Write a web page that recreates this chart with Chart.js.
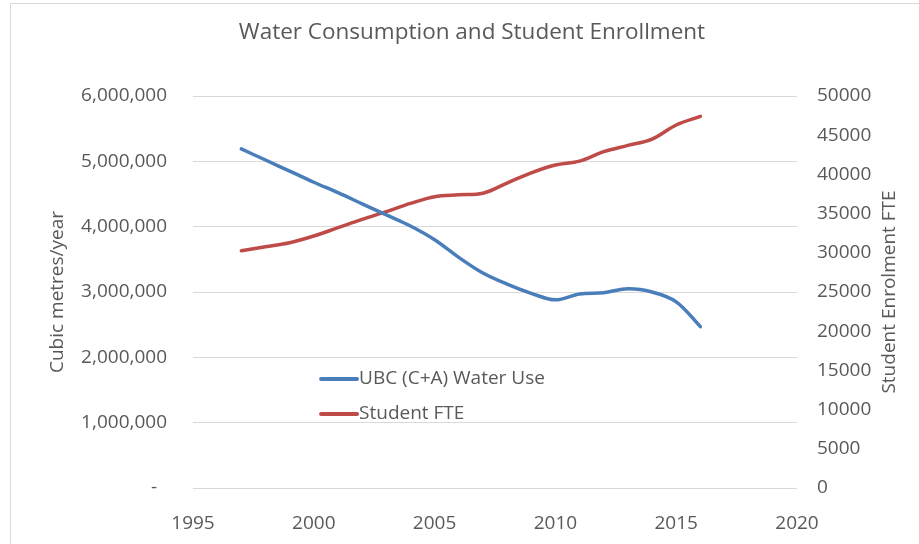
<!DOCTYPE html>
<html>
<head>
<meta charset="utf-8">
<script src="https://cdn.jsdelivr.net/npm/chart.js@4.4.1/dist/chart.umd.min.js"></script>
<style>
  html, body { margin: 0; padding: 0; background: #fff; }
  #wrap { width: 919px; height: 544px; position: relative; }
</style>
</head>
<body>
<div id="wrap"><canvas id="chart" width="919" height="544"></canvas></div>
<script>
// --- Data ---
const years = [1997, 1998, 1999, 2000, 2001, 2002, 2003, 2004, 2005, 2006,
               2007, 2008, 2009, 2010, 2011, 2012, 2013, 2014, 2015, 2016];
const waterUse = [5190000, 5020000, 4850000, 4680000, 4520000, 4350000, 4180000, 4010000, 3800000, 3530000,
                  3290000, 3120000, 2980000, 2880000, 2970000, 2990000, 3050000, 3000000, 2850000, 2470000];
const studentFte = [30270, 30780, 31290, 32140, 33200, 34270, 35250, 36300, 37160, 37400,
                    37600, 38900, 40200, 41200, 41700, 42900, 43700, 44500, 46300, 47400];
const seriesNames = ['UBC (C+A) Water Use', 'Student FTE'];
const seriesColors = ['#4a7ebb', '#be4b48'];
const chartTitle = 'Water Consumption and Student Enrollment';

const TEXT = '#595959';
const FONT = '"Open Sans", Lato, sans-serif';

// --- Plugins ---
const frame = {
    id: 'frame',
    beforeDraw(chart) {
        const ctx = chart.ctx;
        ctx.save();
        ctx.strokeStyle = '#d9d9d9';
        ctx.lineWidth = 1;
        ctx.strokeRect(10.5, 3.5, 2000, 2000);
        ctx.restore();
    }
};

// title is centred on the whole chart object (which is cropped on the right), not the canvas
const topTitle = {
    id: 'topTitle',
    afterDraw(chart) {
        const ctx = chart.ctx;
        ctx.save();
        ctx.font = `22.5px ${FONT}`;
        ctx.fillStyle = TEXT;
        ctx.textAlign = 'center';
        ctx.textBaseline = 'middle';
        ctx.fillText(chartTitle, 472, 33);
        ctx.restore();
    }
};

// legend sits inside the plot, Excel style
const innerLegend = {
    id: 'innerLegend',
    afterDraw(chart) {
        const { ctx, chartArea: a } = chart;
        ctx.save();
        ctx.font = `19px ${FONT}`;
        ctx.textBaseline = 'middle';
        ctx.textAlign = 'left';
        seriesNames.forEach((name, i) => {
            const x = a.left + a.width * 0.212;
            const y = a.top + a.height * (0.722 + i * 0.089);
            ctx.strokeStyle = seriesColors[i];
            ctx.lineWidth = 4;
            ctx.lineCap = 'round';
            ctx.beginPath();
            ctx.moveTo(x, y);
            ctx.lineTo(x + 36, y);
            ctx.stroke();
            ctx.fillStyle = TEXT;
            ctx.fillText(name, x + 38, y);
        });
        ctx.restore();
    }
};

// right axis title reads bottom-to-top like the left one
const rightTitle = {
    id: 'rightTitle',
    afterDraw(chart) {
        const { ctx, chartArea: a } = chart;
        ctx.save();
        ctx.translate(890, a.top + a.height / 2);
        ctx.rotate(-Math.PI / 2);
        ctx.font = `19px ${FONT}`;
        ctx.fillStyle = TEXT;
        ctx.textAlign = 'center';
        ctx.textBaseline = 'middle';
        ctx.fillText('Student Enrolment FTE', 0, 0);
        ctx.restore();
    }
};

const tickFont = { family: FONT, size: 19 };

new Chart(document.getElementById('chart'), {
    type: 'line',
    data: {
        datasets: [
            { label: seriesNames[0], data: years.map((y, i) => ({ x: y, y: waterUse[i] })), yAxisID: 'y',
              borderColor: seriesColors[0], borderWidth: 3.5, pointRadius: 0, tension: 0.35, borderCapStyle: 'round' },
            { label: seriesNames[1], data: years.map((y, i) => ({ x: y, y: studentFte[i] })), yAxisID: 'y1',
              borderColor: seriesColors[1], borderWidth: 3.5, pointRadius: 0, tension: 0.35, borderCapStyle: 'round' },
        ]
    },
    options: {
        responsive: false,
        animation: false,
        layout: { padding: { top: 96, left: 0, right: 0, bottom: 0 } },
        plugins: {
            legend: { display: false },
            tooltip: { enabled: false },
            title: { display: false }
        },
        scales: {
            x: {
                type: 'linear', min: 1995, max: 2020,
                grid: { display: false },
                border: { display: false },
                ticks: { stepSize: 5, color: TEXT, font: tickFont, padding: 16,
                         maxRotation: 0, callback: v => String(v) },
                afterFit: s => { s.height = 56; }
            },
            y: {
                position: 'left', min: 0, max: 6000000,
                grid: { color: '#d9d9d9', lineWidth: 1, drawTicks: false },
                border: { display: false },
                ticks: { stepSize: 1000000, color: TEXT, font: tickFont, padding: 26,
                         callback: v => v === 0 ? '-  ' : v.toLocaleString('en-US') },
                title: { display: true, text: 'Cubic metres/year', color: TEXT,
                         font: { family: FONT, size: 19 }, padding: { top: 46 } },
                afterFit: s => { s.width = 193; }
            },
            y1: {
                position: 'right', min: 0, max: 50000,
                grid: { display: false, drawTicks: false },
                border: { display: false },
                ticks: { stepSize: 5000, color: TEXT, font: tickFont, padding: 20,
                         callback: v => String(v) },
                afterFit: s => { s.width = 122; }
            }
        }
    },
    plugins: [frame, topTitle, innerLegend, rightTitle]
});
</script>
</body>
</html>
